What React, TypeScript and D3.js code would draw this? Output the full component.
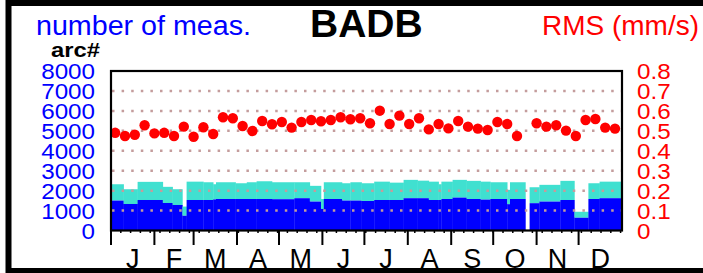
import React from "react";
import * as d3 from "d3";

// month initials under the axis
const monthLabels = ["J", "F", "M", "A", "M", "J", "J", "A", "S", "O", "N", "D"];

// step boundaries of the stacked bars (day of year)
const segDays = [0, 9, 19, 37, 44, 51, 54, 66, 73, 75, 89, 97, 104, 115, 131, 142, 150, 152, 165, 171, 179, 188, 199, 209, 219, 227, 234, 236, 244, 254, 264, 271, 283, 285, 296, 299, 306, 321, 331, 341, 349, 365];

// lower (blue) part of the bars, number of meas.
const blueVals = [1500, 1330, 1530, 1380, 1280, 740, 1530, 1530, 1560, 1580, 1580, 1580, 1580, 1570, 1620, 1450, 1080, 1580, 1500, 1500, 1480, 1530, 1530, 1620, 1620, 1530, 1530, 1580, 1650, 1580, 1550, 1580, 1320, 1580, 0, 1370, 1450, 1530, 640, 1580, 1620];

// bar tops (blue + turquoise)
const totalVals = [2320, 2070, 2440, 2190, 2070, 1200, 2450, 2420, 2320, 2420, 2370, 2420, 2470, 2420, 2420, 2240, 1580, 2420, 2370, 2420, 2370, 2450, 2400, 2540, 2500, 2450, 2320, 2450, 2540, 2490, 2450, 2420, 2040, 2420, 0, 2170, 2290, 2490, 940, 2370, 2450];

// weekly RMS (mm/s)
const rmsVals = [0.490, 0.474, 0.480, 0.528, 0.487, 0.490, 0.474, 0.521, 0.470, 0.518, 0.484, 0.568, 0.563, 0.524, 0.499, 0.549, 0.533, 0.544, 0.516, 0.544, 0.554, 0.548, 0.554, 0.568, 0.558, 0.563, 0.538, 0.601, 0.534, 0.576, 0.534, 0.563, 0.507, 0.534, 0.512, 0.549, 0.521, 0.511, 0.504, 0.544, 0.534, 0.474, null, 0.538, 0.521, 0.528, 0.501, 0.474, 0.554, 0.559, 0.516, 0.511];

const leftTicks = [0, 1000, 2000, 3000, 4000, 5000, 6000, 7000, 8000];
const rightTicks = [0, 0.1, 0.2, 0.3, 0.4, 0.5, 0.6, 0.7, 0.8];
const gridVals = [1000, 2000, 3000, 4000, 5000, 6000, 7000];

const App = () => {
    const width = 703;
    const height = 273;
    const plot = { left: 111, right: 622, top: 71, bottom: 230.5 };
    const yearStart = new Date(2021, 0, 1);
    const yearEnd = new Date(2022, 0, 1);

    const xScale = d3.scaleTime().domain([yearStart, yearEnd]).range([plot.left, plot.right]);
    const dayX = (d: number) => xScale(d3.timeDay.offset(yearStart, d));
    const yScale = d3.scaleLinear().domain([0, 8000]).range([plot.bottom, plot.top]);
    const rScale = d3.scaleLinear().domain([0, 0.8]).range([plot.bottom, plot.top]);

    const months = d3.timeMonth.range(yearStart, yearEnd);
    const font = "'Liberation Sans', Arial, Helvetica, sans-serif";

    const bars = blueVals.map((b, i) => ({
        x0: dayX(segDays[i]),
        x1: dayX(segDays[i + 1]),
        blue: b,
        total: totalVals[i]
    }));

    const weeks = d3.range(0, 53).map(w => dayX(w * 7)).filter(x => x <= plot.right);

    return (
        <svg width={width} height={height} style={{ position: "absolute", left: 0, top: 0, background: "#fff" }}>
            <rect x={8.5} y={3} width={800} height={268} fill="#fff" stroke="#000" strokeWidth={6} />

            {/* stacked bars */}
            {bars.map((d, i) => (
                <g key={"b" + i}>
                    {d.total > 0 && (
                        <rect x={d.x0} y={yScale(d.total)} width={d.x1 - d.x0 + 0.3}
                            height={yScale(d.blue) - yScale(d.total)} fill="#40e0d0" />
                    )}
                    {d.blue > 0 && (
                        <rect x={d.x0} y={yScale(d.blue)} width={d.x1 - d.x0 + 0.3}
                            height={yScale(0) - yScale(d.blue)} fill="#0000ff" />
                    )}
                </g>
            ))}

            {/* dotted grid */}
            {gridVals.map(v => (
                <line key={"g" + v} x1={plot.left + 1} x2={plot.right} y1={yScale(v)} y2={yScale(v)}
                    stroke="#c49c9c" strokeWidth={2.5} strokeDasharray="2.5 7.1" />
            ))}

            {/* RMS dots */}
            {rmsVals.map((v, i) => v == null ? null : (
                <circle key={"c" + i} cx={dayX(i * 7 + 3.5)} cy={rScale(v)} r={5.2} fill="#ff0000" />
            ))}

            {/* plot frame */}
            <rect x={plot.left} y={plot.top} width={plot.right - plot.left} height={plot.bottom - plot.top}
                fill="none" stroke="#000" strokeWidth={2.2} />

            {/* weekly minor ticks */}
            {weeks.map((x, i) => (
                <line key={"w" + i} x1={x} x2={x} y1={plot.bottom} y2={plot.bottom + 2.5} stroke="#000" strokeWidth={1.5} />
            ))}

            {/* month ticks and labels */}
            {months.map((m, i) => {
                const next = d3.timeMonth.offset(m, 1);
                const cx = (xScale(m) + xScale(next)) / 2;
                return (
                    <g key={"m" + i}>
                        <line x1={xScale(m)} x2={xScale(m)} y1={plot.bottom} y2={245} stroke="#000" strokeWidth={2} />
                        <text x={cx} y={268} textAnchor="middle" fontFamily={font} fontSize={27} fill="#000">
                            {monthLabels[i]}
                        </text>
                    </g>
                );
            })}

            {/* left axis labels */}
            {leftTicks.map(v => (
                <text key={"l" + v} transform={`translate(95, ${yScale(v) + 8}) scale(1.1, 1)`}
                    textAnchor="end" fontFamily={font} fontSize={22} fill="#0000ff">
                    {v}
                </text>
            ))}

            {/* right axis labels */}
            {rightTicks.map(v => (
                <text key={"r" + v} transform={`translate(637, ${rScale(v) + 8}) scale(1.1, 1)`}
                    textAnchor="start" fontFamily={font} fontSize={22} fill="#ff0000">
                    {v === 0 ? "0" : v.toFixed(1)}
                </text>
            ))}

            {/* titles */}
            <text x={36} y={35} fontFamily={font} fontSize={27} fill="#0000ff" textLength={215} lengthAdjust="spacingAndGlyphs">
                number of meas.
            </text>
            <text x={310} y={36.5} fontFamily={font} fontSize={39} fontWeight="bold" fill="#000">
                BADB
            </text>
            <text x={542} y={35} fontFamily={font} fontSize={27} fill="#ff0000" textLength={157} lengthAdjust="spacingAndGlyphs">
                RMS (mm/s)
            </text>
            <text x={51} y={57} fontFamily={font} fontSize={20} fontWeight="bold" fill="#000" textLength={49} lengthAdjust="spacingAndGlyphs">
                arc#
            </text>
        </svg>
    );
};

export default App;
